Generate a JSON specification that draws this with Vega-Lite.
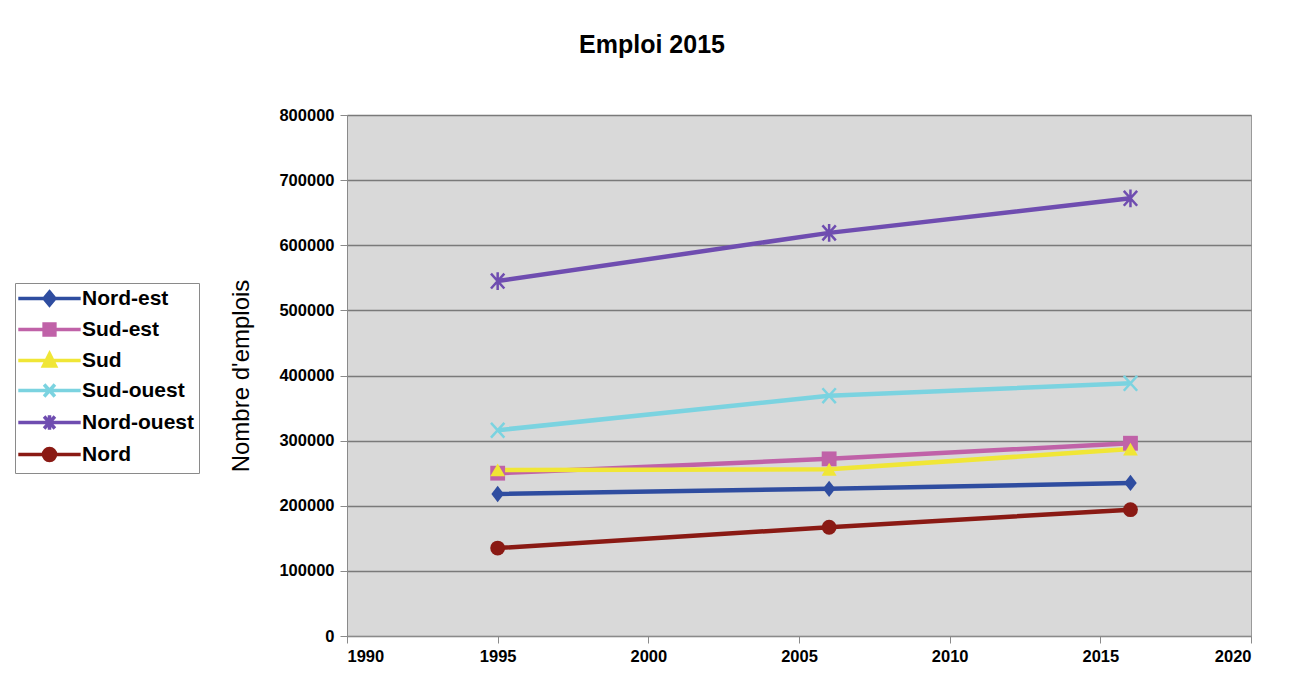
{
  "$schema": "https://vega.github.io/schema/vega-lite/v6.json",
  "autosize": {"type": "none"},
  "width": 904,
  "height": 521,
  "padding": {"left": 347, "top": 115, "right": 38, "bottom": 61},
  "background": "white",
  "title": {"text": "Emploi 2015", "fontSize": 25, "fontWeight": "bold", "font": "Liberation Sans", "color": "black", "offset": 49, "dx": -147, "anchor": "middle"},
  "config": {
    "font": "Liberation Sans",
    "view": {"fill": "#d9d9d9", "stroke": "#9a9a9a", "strokeWidth": 1},
    "axis": {"labelFont": "Liberation Sans", "labelFontWeight": "bold", "labelFontSize": 16.5, "labelColor": "black", "domainColor": "#8a8a8a", "tickColor": "#8a8a8a", "tickSize": 7, "titleFont": "Liberation Sans", "titleFontSize": 24, "titleFontWeight": "normal", "titleColor": "black"},
    "point": {"size": 220, "opacity": 1}
  },
  "data": {"values": [
    {"annee": 1995, "region": "Nord-est", "emplois": 218000},
    {"annee": 2006, "region": "Nord-est", "emplois": 226000},
    {"annee": 2016, "region": "Nord-est", "emplois": 235000},
    {"annee": 1995, "region": "Sud-est", "emplois": 250000},
    {"annee": 2006, "region": "Sud-est", "emplois": 272000},
    {"annee": 2016, "region": "Sud-est", "emplois": 296000},
    {"annee": 1995, "region": "Sud", "emplois": 255000},
    {"annee": 2006, "region": "Sud", "emplois": 256000},
    {"annee": 2016, "region": "Sud", "emplois": 287000},
    {"annee": 1995, "region": "Sud-ouest", "emplois": 316000},
    {"annee": 2006, "region": "Sud-ouest", "emplois": 369000},
    {"annee": 2016, "region": "Sud-ouest", "emplois": 388000},
    {"annee": 1995, "region": "Nord-ouest", "emplois": 545000},
    {"annee": 2006, "region": "Nord-ouest", "emplois": 619000},
    {"annee": 2016, "region": "Nord-ouest", "emplois": 672000},
    {"annee": 1995, "region": "Nord", "emplois": 135000},
    {"annee": 2006, "region": "Nord", "emplois": 167000},
    {"annee": 2016, "region": "Nord", "emplois": 194000}
  ]},
  "encoding": {
    "x": {"field": "annee", "type": "quantitative", "scale": {"domain": [1990, 2020], "nice": false, "zero": false},
      "axis": {"title": null, "values": [1990, 1995, 2000, 2005, 2010, 2015, 2020], "format": "d", "grid": false, "labelPadding": 5}},
    "y": {"field": "emplois", "type": "quantitative", "scale": {"domain": [0, 800000], "nice": false},
      "axis": {"title": "Nombre d'emplois", "values": [0, 100000, 200000, 300000, 400000, 500000, 600000, 700000, 800000], "format": "d", "grid": true, "gridColor": "#7a7a7a", "gridWidth": 1.5, "labelPadding": 6, "titlePadding": 25}}
  },
  "layer": [
    {"mark": {"type": "line", "strokeWidth": 4.5},
     "encoding": {"color": {"field": "region", "type": "nominal",
      "scale": {"domain": ["Nord-est", "Sud-est", "Sud", "Sud-ouest", "Nord-ouest", "Nord"],
        "range": ["#2f4da0", "#c062a8", "#f0e636", "#7bd3e0", "#6f4db0", "#8a1a14"]},
      "legend": {"title": null, "orient": "none", "legendX": -332, "legendY": 168,
        "strokeColor": "#8a8a8a", "fillColor": "white", "padding": 5,
        "labelFont": "Liberation Sans", "labelFontSize": 21, "labelFontWeight": "bold", "labelColor": "black",
        "symbolSize": 144, "symbolOffset": 19, "labelOffset": 22, "rowPadding": 4, "symbolStrokeWidth": 3.5, "symbolOpacity": 1,
        "symbolType": {"expr": "datum.value === 'Nord-est' ? 'M-5.2,0L5.2,0M0,-1.1L0.9,0L0,1.1L-0.9,0Z' : datum.value === 'Sud-est' ? 'M-5.2,0L5.2,0M-0.9,-0.9L0.9,-0.9L0.9,0.9L-0.9,0.9Z' : datum.value === 'Sud' ? 'M-5.2,0L5.2,0M0,-1.1L1,0.9L-1,0.9Z' : datum.value === 'Sud-ouest' ? 'M-5.2,0L5.2,0M-0.9,-1L0.9,1M-0.9,1L0.9,-1' : datum.value === 'Nord-ouest' ? 'M-5.2,0L5.2,0M-0.9,-1L0.9,1M-0.9,1L0.9,-1M0,-1.2L0,1.2' : 'M-5.2,0L5.2,0M-1,0A1,1,0,1,1,1,0A1,1,0,1,1,-1,0Z'"},
        "symbolFillColor": {"expr": "scale('color', datum.value)"}
      }}}},
    {"transform": [{"filter": "datum.region === 'Nord-est'"}],
     "mark": {"type": "point", "filled": true, "shape": "M0,-1.1L0.85,0L0,1.1L-0.85,0Z"},
     "encoding": {"color": {"field": "region", "type": "nominal", "legend": null}}},
    {"transform": [{"filter": "datum.region === 'Sud-est'"}],
     "mark": {"type": "point", "filled": true, "shape": "square"},
     "encoding": {"color": {"field": "region", "type": "nominal", "legend": null}}},
    {"transform": [{"filter": "datum.region === 'Sud'"}],
     "mark": {"type": "point", "filled": true, "shape": "triangle-up"},
     "encoding": {"color": {"field": "region", "type": "nominal", "legend": null}}},
    {"transform": [{"filter": "datum.region === 'Sud-ouest'"}],
     "mark": {"type": "point", "filled": false, "strokeWidth": 2.5, "shape": "M-0.9,-1L0.9,1M-0.9,1L0.9,-1"},
     "encoding": {"color": {"field": "region", "type": "nominal", "legend": null}}},
    {"transform": [{"filter": "datum.region === 'Nord-ouest'"}],
     "mark": {"type": "point", "filled": false, "strokeWidth": 2.5, "shape": "M-0.9,-1L0.9,1M-0.9,1L0.9,-1M0,-1.2L0,1.2"},
     "encoding": {"color": {"field": "region", "type": "nominal", "legend": null}}},
    {"transform": [{"filter": "datum.region === 'Nord'"}],
     "mark": {"type": "point", "filled": true, "shape": "circle"},
     "encoding": {"color": {"field": "region", "type": "nominal", "legend": null}}}
  ]
}
